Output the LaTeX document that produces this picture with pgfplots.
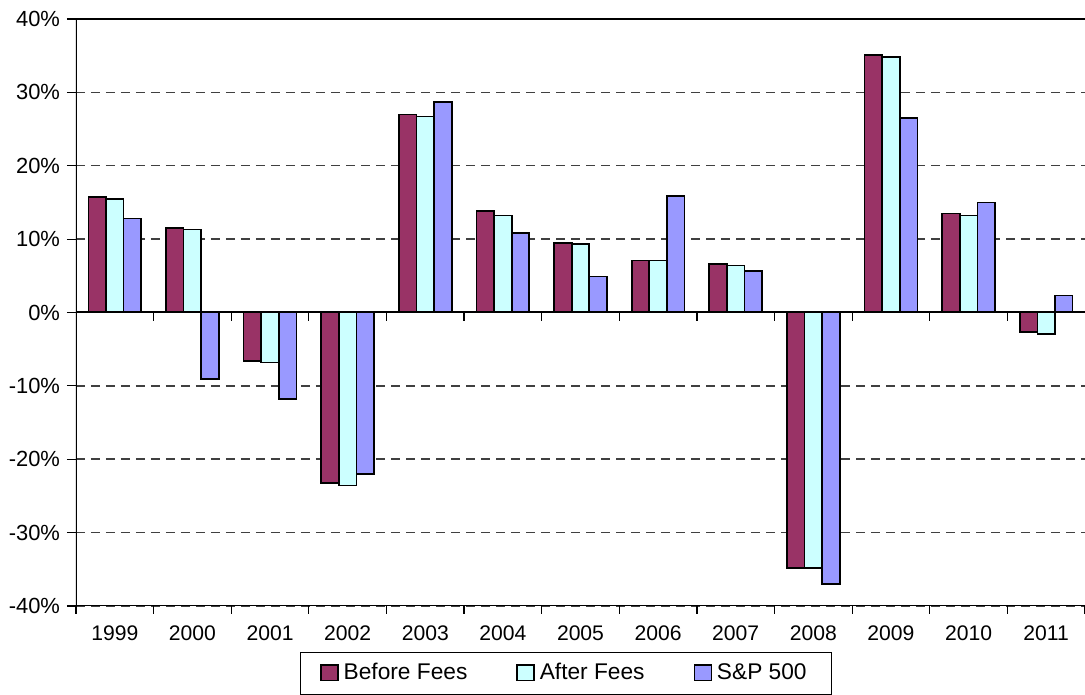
\documentclass[border=0pt]{standalone}
\usepackage{fontspec}
\setmainfont{Liberation Sans}
\usepackage{pgfplots}
\usepackage{pgfplotstable}
\pgfplotsset{compat=1.18}

\definecolor{beforec}{HTML}{993366}
\definecolor{afterc}{HTML}{CCFFFF}
\definecolor{spc}{HTML}{9999FF}

% yearly returns, percent
\pgfplotstableread{
x  before after  sp
0   15.7  15.5  12.8
1   11.5  11.3  -9.1
2   -6.6  -6.8 -11.8
3  -23.2 -23.6 -22.0
4   27.0  26.7  28.7
5   13.8  13.2  10.8
6    9.5   9.3   4.9
7    7.1   7.1  15.9
8    6.6   6.4   5.7
9  -34.8 -34.8 -37.0
10  35.1  34.8  26.5
11  13.5  13.2  15.0
12  -2.7  -2.9   2.3
}\returns

\pgfplotsset{
  mybar/.style={ybar, bar width=0.227, draw=black, line width=0.85bp,
    legend image code/.code={\draw[##1, line width=0.7bp] (0bp,-3.6bp) rectangle (8.5bp,4.2bp);}},
}

\begin{document}
\begin{tikzpicture}
\begin{axis}[
  width=504.5bp, height=293.5bp, scale only axis,
  xmin=-0.5, xmax=12.5, ymin=-40, ymax=40,
  axis line style={draw=none},
  xtick={0,...,12},
  xticklabels={1999,2000,2001,2002,2003,2004,2005,2006,2007,2008,2009,2010,2011},
  minor xtick={-0.5,0.5,...,12.5},
  ytick={-40,-30,...,40},
  yticklabels={-40\%,-30\%,-20\%,-10\%,0\%,10\%,20\%,30\%,40\%},
  tick align=outside, xtick pos=bottom, ytick pos=left,
  major x tick style={draw=none},
  major tick length=4.5bp, minor tick length=4bp,
  tick style={black, line width=0.6bp},
  minor tick style={black, line width=0.6bp},
  xticklabel style={font=\fontsize{10.6}{12}\selectfont, yshift=-2bp},
  yticklabel style={font=\fontsize{11}{13}\selectfont},
  ymajorgrids, major grid style={black!75, line width=0.75bp, dash pattern=on 4.5bp off 3bp},
  legend columns=3,
  legend style={at={(0.4856,0)}, anchor=north, yshift=-23bp, draw=black, line width=0.6bp,
    font=\fontsize{11.4}{13}\selectfont, inner xsep=10bp, inner ysep=3bp,
    nodes={inner xsep=2.5bp, text height=8.5bp, text depth=2.5bp},
    /tikz/every even column/.append style={column sep=22bp}},
]
\addplot[mybar, bar shift=-0.227, fill=beforec] table[x=x, y=before] {\returns};
\addlegendentry{Before Fees}
\addplot[mybar, bar shift=0, fill=afterc] table[x=x, y=after] {\returns};
\addlegendentry{After Fees}
\addplot[mybar, bar shift=0.227, fill=spc] table[x=x, y=sp] {\returns};
\addlegendentry{S\&P 500}

% zero line with its category ticks
\draw[black, line width=1bp] (axis cs:-0.5,0) -- (axis cs:12.5,0);
\pgfplotsinvokeforeach{0.5,1.5,...,11.5}{\draw[black, line width=0.6bp] (axis cs:#1,0) -- ([yshift=-4.5bp]axis cs:#1,0);}

% frame: left, bottom, top (right side is cut off)
\draw[black, line width=1bp] (rel axis cs:0,1) -- (rel axis cs:0,0) -- (rel axis cs:1,0);
\draw[black, line width=0.7bp] (rel axis cs:0,1) -- (rel axis cs:1,1);

\coordinate (bl) at (rel axis cs:0,0);
\coordinate (tr) at (rel axis cs:1,1);
\end{axis}
\pgfresetboundingbox
\path[use as bounding box] ([shift={(-38bp,-44.5bp)}]bl) rectangle ([shift={(0bp,9.5bp)}]tr);
\end{tikzpicture}
\end{document}
